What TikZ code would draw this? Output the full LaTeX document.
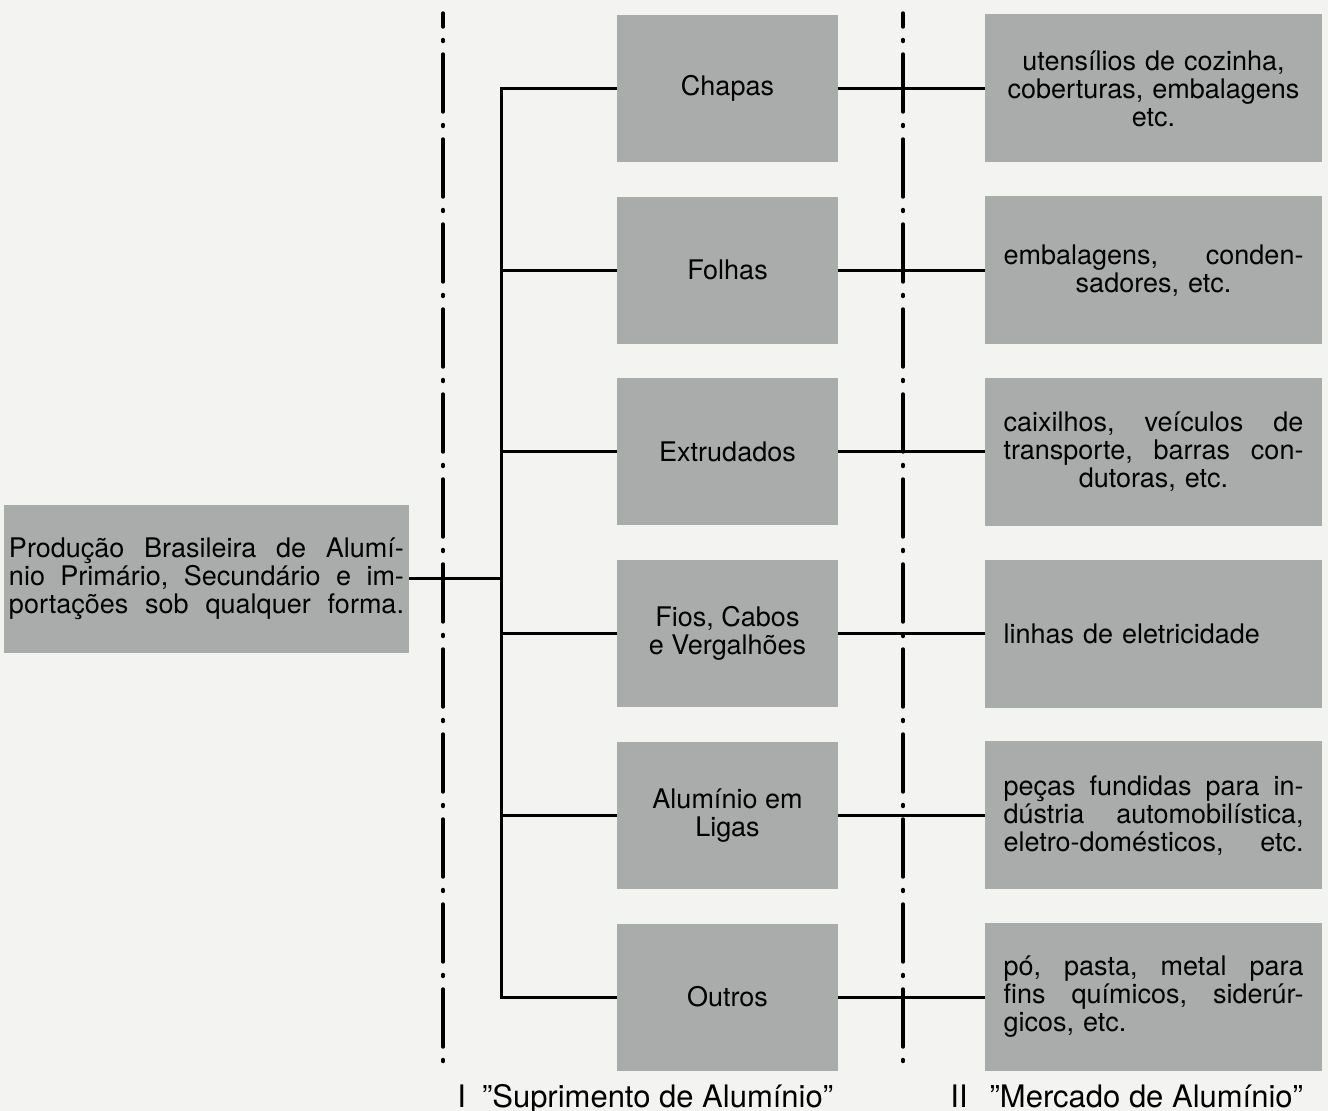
\documentclass[tikz,border=0pt]{standalone}
\usepackage{fontspec}
\setmainfont{TeX Gyre Heros}
\usepackage{tikz}
\usetikzlibrary{positioning}
\definecolor{boxgray}{RGB}{170,171,171}
\definecolor{paper}{RGB}{243,243,241}

\begin{document}
\begin{tikzpicture}[node distance=90.85pt]
	\tikzstyle{box} = [rectangle, fill=boxgray, inner sep=0pt, 
	font=\fontsize{13.5pt}{14pt}\selectfont]
	\tikzstyle{supplybox} = [box, minimum width=110.5pt, minimum height=73.5pt, 
	align=center]
	\tikzstyle{marketbox} = [box, minimum width=168.5pt, minimum height=74pt, 
	text width=150pt]
	\tikzstyle{sourcebox} = [box, minimum width=202.5pt, minimum height=74pt, 
	text width=197.5pt, align=left]
	\tikzstyle{link} = [line width=1.5pt]
	\tikzstyle{divider} = [line width=1.7pt, line cap=round, 
	dash pattern=on 29pt off 6.25pt on 1pt off 6.25pt, dash phase=22pt]
	\tikzstyle{caption} = [anchor=base west, inner sep=0pt, 
	font=\fontsize{15.5pt}{16pt}\selectfont]
	\fill [paper] (0,0) rectangle (664pt,-555.5pt);
	\useasboundingbox (0,0) rectangle (664pt,-555.5pt);
	\node (chapas) [supplybox] at (363.75pt,-44.25pt) {Chapas};
	\node (folhas) [supplybox, below of=chapas] {Folhas};
	\node (extrudados) [supplybox, below of=folhas] {Extrudados};
	\node (fios) [supplybox, below of=extrudados] {Fios, Cabos\\e Vergalhões};
	\node (ligas) [supplybox, below of=fios] {Alumínio em\\Ligas};
	\node (outros) [supplybox, below of=ligas] {Outros};
	\node (usoChapas) [marketbox, align=center, right of=chapas, xshift=122.15pt] 
	{utensílios de cozinha,\\coberturas, embalagens\\etc.};
	\node (usoFolhas) [marketbox, align=center, right of=folhas, xshift=122.15pt] 
	{embalagens,\hfill conden-\\sadores, etc.};
	\node (usoExtrudados) [marketbox, align=center, right of=extrudados, xshift=122.15pt] 
	{caixilhos,\hfill veículos\hfill de\\transporte,\hfill barras\hfill con-\\dutoras, etc.};
	\node (usoFios) [marketbox, align=left, right of=fios, xshift=122.15pt] 
	{linhas de eletricidade};
	\node (usoLigas) [marketbox, align=left, right of=ligas, xshift=122.15pt] 
	{peças\hfill fundidas\hfill para\hfill in-\\dústria\hfill automobilística,\\eletro-domésticos,\hfill etc.};
	\node (usoOutros) [marketbox, align=left, right of=outros, xshift=122.15pt] 
	{pó,\hfill pasta,\hfill metal\hfill para\\fins\hfill químicos,\hfill siderúr-\\gicos, etc.};
	\node (producao) [sourcebox] at (103.25pt,-289.5pt) 
	{Produção\hfill Brasileira\hfill de\hfill Alumí-\\nio\hfill Primário,\hfill Secundário\hfill e\hfill im-\\portações\hfill sob\hfill qualquer\hfill forma.};
	\node (captionI) [caption] at (228.5pt,-553.5pt) {I\hspace{8pt}''Suprimento de Alumínio''};
	\node (captionII) [caption] at (475pt,-553.5pt) {II\hspace{11pt}''Mercado de Alumínio''};
	\coordinate (trunk) at ([xshift=-57.5pt]outros.west);
	\coordinate (divTopI) at (221.5pt,-6.5pt);
	\coordinate (divBotI) at (221.5pt,-536pt);
	\coordinate (divTopII) at (451.5pt,-6.5pt);
	\coordinate (divBotII) at (451.5pt,-536pt);
	\draw [divider] (divTopI) -- (divBotI);
	\draw [divider] (divTopII) -- (divBotII);
	\draw [link] (chapas.west) -| (trunk) -- (outros.west);
	\draw [link] (folhas.west) -- (folhas.west -| trunk);
	\draw [link] (extrudados.west) -- (extrudados.west -| trunk);
	\draw [link] (fios.west) -- (fios.west -| trunk);
	\draw [link] (ligas.west) -- (ligas.west -| trunk);
	\draw [link] (producao.east) -- (producao.east -| trunk);
	\draw [link] (chapas.east) -- (usoChapas.west);
	\draw [link] (folhas.east) -- (usoFolhas.west);
	\draw [link] (extrudados.east) -- (usoExtrudados.west);
	\draw [link] (fios.east) -- (usoFios.west);
	\draw [link] (ligas.east) -- (usoLigas.west);
	\draw [link] (outros.east) -- (usoOutros.west);
\end{tikzpicture}
\end{document}
